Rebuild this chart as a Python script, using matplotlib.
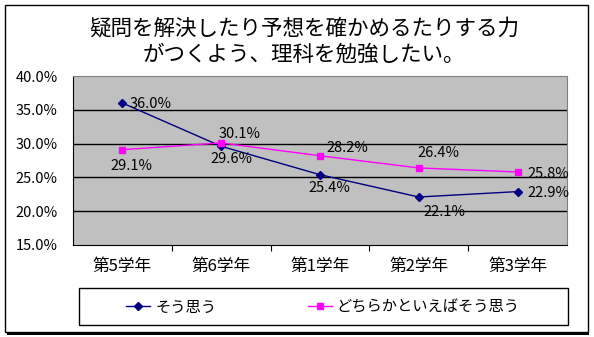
import matplotlib
matplotlib.use("Agg")
import matplotlib.pyplot as plt
from matplotlib.patches import Rectangle
from matplotlib.lines import Line2D

plt.rcParams['font.family'] = ['Noto Sans CJK JP', 'DejaVu Sans']

title_lines = ["疑問を解決したり予想を確かめるたりする力", "がつくよう、理科を勉強したい。"]
categories = ["第5学年", "第6学年", "第1学年", "第2学年", "第3学年"]
series_names = ["そう思う", "どちらかといえばそう思う"]
s1 = [36.0, 29.6, 25.4, 22.1, 22.9]
s2 = [29.1, 30.1, 28.2, 26.4, 25.8]
yticks = [15, 20, 25, 30, 35, 40]

W, H = 594, 337
fig = plt.figure(figsize=(W/100, H/100), dpi=100)

# outer frame with shadow
fig.patches.append(Rectangle((7/W, 1 - 335/H), 582/W, 328/H, transform=fig.transFigure,
                             facecolor='black', edgecolor='none', zorder=-2))
fig.patches.append(Rectangle((5/W, 1 - 332/H), 583/W, 327/H, transform=fig.transFigure,
                             facecolor='white', edgecolor='black', linewidth=1.0, zorder=-1))

ax = fig.add_axes([73/W, 1 - 245/H, (567-73)/W, (245-76)/H])
ax.set_zorder(2)
ax.set_facecolor('#C0C0C0')
x = list(range(len(categories)))
ax.set_xlim(-0.5, len(categories) - 0.5)
ax.set_ylim(15, 40)
ax.set_yticks(yticks)
ax.set_yticklabels([f"{v:.1f}%" for v in yticks], fontsize=10.5)
for v in yticks[1:-1]:
    ax.axhline(v, color='black', linewidth=1.0, zorder=1)
ax.set_xticks([i + 0.5 for i in range(len(categories) - 1)])
ax.set_xticklabels([])
ax.tick_params(axis='x', direction='out', length=4, color='black')
ax.tick_params(axis='y', length=0, pad=11)
ax.set_xticks(x, minor=True)
ax.set_xticklabels(categories, minor=True, fontsize=12)
ax.tick_params(axis='x', which='minor', length=0, pad=9)
for side in ['top', 'right']:
    ax.spines[side].set_color('#808080')
for side in ['left', 'bottom']:
    ax.spines[side].set_color('black')

ax.plot(x, s1, color='#000080', marker='D', markersize=4, linewidth=1.0, zorder=3)
ax.plot(x, s2, color='#FF00FF', marker='s', markersize=4.5, linewidth=1.0, zorder=3)

# label offsets in pixels (dx right, dy down) from each point, left edge / vertical centre
off1 = [(7.6, 1), (-11, 13), (-12, 13), (5, 15), (9.4, 1.4)]
off2 = [(-12, 16), (-3, -9), (6, -8), (-1, -15), (9.4, 2)]
px2pt = 0.72
for vals, offs in ((s1, off1), (s2, off2)):
    for xi, v, (dx, dy) in zip(x, vals, offs):
        ax.annotate(f"{v:.1f}%", (xi, v), xytext=(dx * px2pt, -dy * px2pt),
                    textcoords='offset points', ha='left', va='center',
                    fontsize=10.5, zorder=4)

fig.text(304/W, 1 - 29/H, title_lines[0], ha='center', va='center', fontsize=15.5)
fig.text(304/W, 1 - 55/H, title_lines[1], ha='center', va='center', fontsize=15.5)

# legend box
fig.patches.append(Rectangle((79/W, 1 - 325/H), 489/W, 37/H, transform=fig.transFigure,
                             facecolor='white', edgecolor='black', linewidth=1.0, zorder=0))
handles = [Line2D([], [], color='#000080', marker='D', markersize=4, linewidth=1.0),
           Line2D([], [], color='#FF00FF', marker='s', markersize=4.5, linewidth=1.0)]
leg = fig.legend(handles, series_names, loc='center left', bbox_to_anchor=(126/W, 1 - 307/H),
                 ncol=2, frameon=False, fontsize=11, handlelength=1.57, columnspacing=6.0,
                 handletextpad=0.33, borderaxespad=0, borderpad=0)
leg.set_zorder(5)

fig.savefig("out.png", dpi=100)
